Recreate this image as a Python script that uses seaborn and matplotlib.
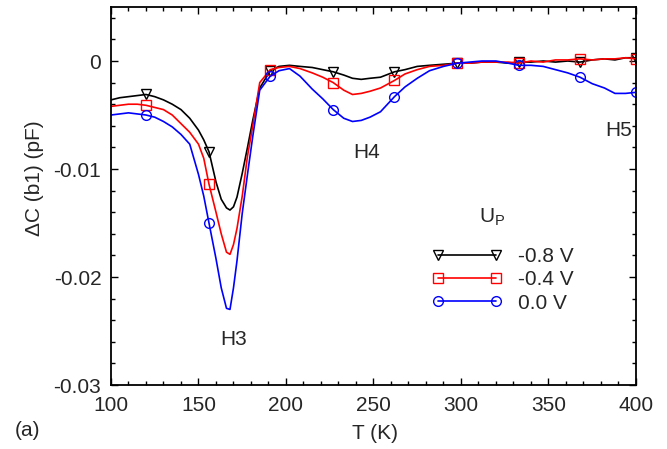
import numpy as np
import pandas as pd
import seaborn as sns
import matplotlib
matplotlib.use("Agg")
import matplotlib.pyplot as plt
from matplotlib.lines import Line2D
from matplotlib.ticker import MultipleLocator

# temperature grid (K)
T = [100, 105, 110, 115, 120, 125, 130, 135, 140, 145, 150, 153, 156, 160, 163,
     166, 168, 170, 172, 175, 178, 181, 185, 191, 196, 202, 208, 215, 221, 227,
     233, 238, 243, 248, 254, 262, 268, 275, 282, 290, 298, 305, 312, 320, 327,
     333, 340, 347, 354, 361, 368, 375, 382, 388, 394, 400]

# Delta C (pF) for each pulse voltage
dc_m08 = [-0.0036, -0.0034, -0.0033, -0.0032, -0.0031, -0.0033, -0.0036, -0.0040,
          -0.0045, -0.0053, -0.0064, -0.0073, -0.0084, -0.0112, -0.0128, -0.0136,
          -0.0138, -0.0135, -0.0126, -0.0104, -0.0080, -0.0055, -0.0025, -0.0009,
          -0.0005, -0.0004, -0.0005, -0.0006, -0.0008, -0.0010, -0.0013, -0.0016,
          -0.0017, -0.0016, -0.0015, -0.0010, -0.0008, -0.0005, -0.0004, -0.0003,
          -0.0002, -0.0002, -0.0001, -0.0001, -0.0002, -0.0001, -0.0001, 0.0000,
          -0.0001, 0.0000, -0.0001, 0.0001, 0.0002, 0.0001, 0.0003, 0.0003]
dc_m04 = [-0.0042, -0.0041, -0.0040, -0.0040, -0.0041, -0.0043, -0.0045, -0.0050,
          -0.0058, -0.0066, -0.0077, -0.0090, -0.0114, -0.0140, -0.0160, -0.0177,
          -0.0179, -0.0170, -0.0155, -0.0125, -0.0088, -0.0060, -0.0020, -0.0008,
          -0.0006, -0.0005, -0.0007, -0.0011, -0.0015, -0.0020, -0.0027, -0.0031,
          -0.0030, -0.0028, -0.0025, -0.0018, -0.0012, -0.0008, -0.0005, -0.0004,
          -0.0002, -0.0002, -0.0001, -0.0001, -0.0001, -0.0002, 0.0000, -0.0001,
          0.0001, 0.0001, 0.0002, 0.0001, 0.0002, 0.0002, 0.0003, 0.0002]
dc_00 = [-0.0050, -0.0049, -0.0048, -0.0049, -0.0050, -0.0052, -0.0056, -0.0061,
         -0.0068, -0.0077, -0.0105, -0.0125, -0.0150, -0.0183, -0.0210, -0.0229,
         -0.0230, -0.0210, -0.0185, -0.0141, -0.0105, -0.0070, -0.0027, -0.0014,
         -0.0009, -0.0007, -0.0014, -0.0026, -0.0035, -0.0045, -0.0053, -0.0056,
         -0.0055, -0.0052, -0.0047, -0.0033, -0.0024, -0.0016, -0.0009, -0.0005,
         -0.0002, -0.0001, 0.0000, 0.0000, -0.0002, -0.0004, -0.0004, -0.0005,
         -0.0008, -0.0011, -0.0015, -0.0021, -0.0025, -0.0030, -0.0030, -0.0029]

series_labels = ["-0.8 V", "-0.4 V", "0.0 V"]
marker_T = [120, 156, 191, 227, 262, 298, 333, 368, 400]

x_ticks = [100, 150, 200, 250, 300, 350, 400]
y_ticks = [-0.03, -0.02, -0.01, 0]
y_ticklabels = ["-0.03", "-0.02", "-0.01", "0"]

peaks = ["H3", "H4", "H5"]
peak_T = [170, 246, 390]
peak_dc = [-0.0258, -0.0085, -0.0064]

sns.set_style("ticks")
plt.rcParams["font.family"] = ["Liberation Sans", "DejaVu Sans"]
plt.rcParams["mathtext.fontset"] = "custom"
plt.rcParams["mathtext.rm"] = "Liberation Sans"
plt.rcParams["axes.unicode_minus"] = False
fs = 15

df = pd.DataFrame({"T": T, series_labels[0]: dc_m08,
                   series_labels[1]: dc_m04, series_labels[2]: dc_00})
mark_idx = [T.index(t) for t in marker_T]

fig, ax = plt.subplots(figsize=(6.67, 4.49), dpi=100)
fig.subplots_adjust(left=0.1664, right=0.9535, top=0.9844, bottom=0.1425)

colors = ["black", "#ff0000", "#0000ff"]
markers = ["v", "s", "o"]
handles = []
for lab, c, m in zip(series_labels, colors, markers):
    sns.lineplot(data=df, x="T", y=lab, ax=ax, color=c, lw=1.2, errorbar=None,
                 marker=m, markevery=mark_idx, ms=7, mfc="none", mec=c, mew=1.0)
    handles.append(Line2D([0], [0], color=c, lw=1.2, marker=m, ms=7,
                          mfc="none", mec=c, mew=1.0))

ax.set_xlim(100, 400)
ax.set_ylim(-0.03, 0.005)
ax.set_xticks(x_ticks)
ax.set_xticklabels([str(v) for v in x_ticks])
ax.set_yticks(y_ticks)
ax.set_yticklabels(y_ticklabels)
ax.xaxis.set_minor_locator(MultipleLocator(10))
ax.yaxis.set_minor_locator(MultipleLocator(0.002))
ax.tick_params(which="both", direction="in", top=True, right=True,
               labelsize=fs, width=1.0, color="black")
ax.tick_params(which="major", length=5)
ax.tick_params(which="minor", length=3)
ax.tick_params(axis="x", pad=8)
ax.tick_params(axis="y", pad=7)
for s in ax.spines.values():
    s.set_linewidth(1.3)
    s.set_color("black")

ax.set_xlabel("T (K)", fontsize=fs)
ax.set_ylabel("ΔC (b1) (pF)", fontsize=fs)
ax.xaxis.set_label_coords(0.503, -0.104)
ax.yaxis.set_label_coords(-0.128, 0.548)

for name, tx, ty in zip(peaks, peak_T, peak_dc):
    ax.text(tx, ty, name, fontsize=fs, ha="center", va="center")

leg = ax.legend(handles, series_labels, loc="center left",
                bbox_to_anchor=(0.611, 0.278), frameon=False, fontsize=fs,
                numpoints=2, handlelength=3.4, handletextpad=0.72,
                labelspacing=0.2, borderpad=0, borderaxespad=0)
ax.text(0.726, 0.444, "U$_\\mathrm{P}$", transform=ax.transAxes,
        fontsize=fs, ha="center", va="center")

fig.text(0.022, 1 - 431 / 449, "(a)", fontsize=fs, va="center")

fig.savefig("out.png", dpi=100)
